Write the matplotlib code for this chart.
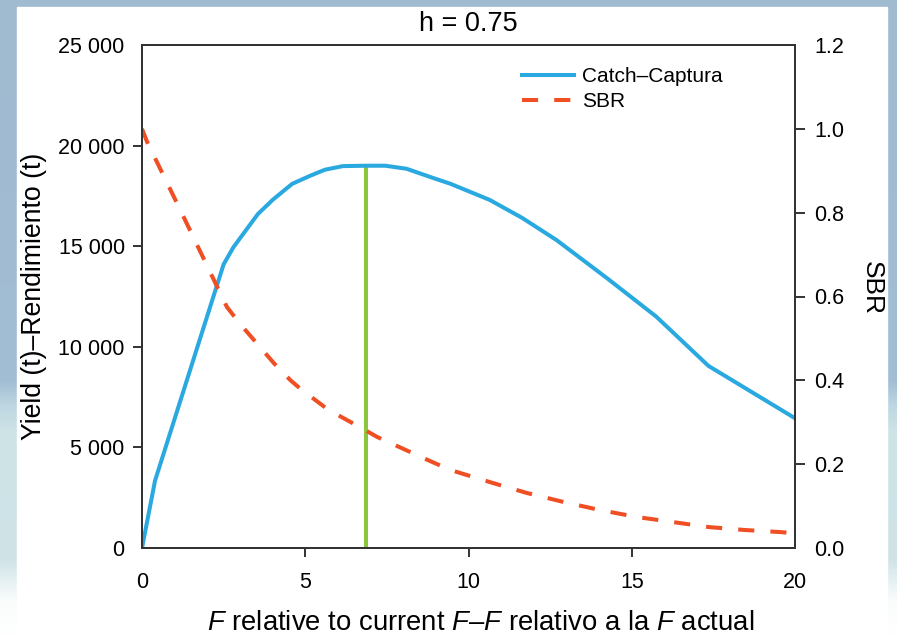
import numpy as np
import matplotlib
matplotlib.use('Agg')
import matplotlib.pyplot as plt
from matplotlib.patches import Rectangle

plt.rcParams['font.family'] = ['Liberation Sans', 'DejaVu Sans']
plt.rcParams['mathtext.fontset'] = 'custom'
plt.rcParams['mathtext.it'] = 'Liberation Sans:italic'
plt.rcParams['mathtext.rm'] = 'Liberation Sans'

# Catch (t) vs F multiplier
f_catch = [0, 0.4, 2.5, 2.8, 3.55, 4.0, 4.6, 5.15, 5.6, 6.15, 6.85, 7.45, 8.1, 8.9,
           9.45, 10.65, 11.65, 12.7, 14.25, 15.75, 17.35, 20]
catch = [0, 3350, 14100, 14950, 16600, 17300, 18100, 18500, 18800, 18980, 19000,
         19000, 18850, 18400, 18100, 17300, 16400, 15300, 13400, 11500, 9050, 6450]

# SBR vs F multiplier
f_sbr = [0, 0.15, 1.15, 2.6, 3.0, 4.05, 4.55, 4.85, 5.7, 6.75, 7.2, 8.75, 9.45,
         10.75, 11.8, 12.9, 14.0, 15.15, 16.25, 17.35, 18.45, 19.55, 20]
sbr = [1.0, 0.97, 0.81, 0.575, 0.535, 0.44, 0.4, 0.38, 0.33, 0.285, 0.265, 0.21,
       0.186, 0.155, 0.131, 0.11, 0.091, 0.074, 0.062, 0.05, 0.043, 0.038, 0.035]

f_msy = 6.85

x_ticks = [0, 5, 10, 15, 20]
y_ticks = [0, 5000, 10000, 15000, 20000, 25000]
y_ticklabels = ['0', '5 000', '10 000', '15 000', '20 000', '25 000']
y2_ticks = [0.0, 0.2, 0.4, 0.6, 0.8, 1.0, 1.2]

W, H = 897, 636
fig = plt.figure(figsize=(W / 100, H / 100), dpi=100)

# fondo: degradado azul -> blanco, panel blanco encima
bg = fig.add_axes([0, 0, 1, 1], zorder=-10)
rows = np.arange(H)
stops = [0, 380, 405, 430, 560, 600, H]
cols = np.array([[160, 186, 208], [162, 190, 212], [190, 214, 226],
                 [205, 227, 230], [208, 228, 232], [250, 252, 252], [255, 255, 255]]) / 255
grad = np.stack([np.interp(rows, stops, cols[:, k]) for k in range(3)], axis=1)
bg.imshow(np.repeat(grad[:, None, :], 4, axis=1), aspect='auto', extent=[0, W, H, 0])
bg.add_patch(Rectangle((17, 7), 870, H - 7, color='white'))
bg.set_xlim(0, W)
bg.set_ylim(H, 0)
bg.axis('off')

ax = fig.add_axes([142 / W, 1 - 548 / H, (795 - 142) / W, (548 - 45) / H])
ax.set_facecolor('none')
ax2 = ax.twinx()

blue = '#2aa9e0'
red = '#f04e23'
green = '#8cc63f'

l1, = ax.plot(f_catch, catch, color=blue, lw=2.9, solid_joinstyle='round', label='Catch–Captura')
ax.plot([f_msy, f_msy], [0, max(catch)], color=green, lw=2.9, zorder=1)
l2, = ax2.plot(f_sbr, sbr, color=red, lw=2.9, dashes=(4, 4), label='SBR')

ax.set_xlim(0, 20)
ax.set_ylim(0, 25000)
ax2.set_ylim(0, 1.2)
ax.set_xticks(x_ticks)
ax.set_yticks(y_ticks)
ax.set_yticklabels(y_ticklabels)
ax2.set_yticks(y2_ticks)
ax2.set_yticklabels([f'{v:.1f}' for v in y2_ticks])

spine_c = '#333333'
for a in (ax, ax2):
    for s in a.spines.values():
        s.set_color(spine_c)
        s.set_linewidth(1.4)
ax.tick_params(axis='x', length=6.5, width=1.4, color=spine_c, labelsize=15.5, pad=11)
ax.tick_params(axis='y', length=6.5, width=1.4, color=spine_c, labelsize=15.5, pad=6)
ax2.tick_params(axis='y', length=7.5, width=1.4, color=spine_c, labelsize=15.5, pad=6.5)

# sin marcas en los extremos
for t in (ax.xaxis.get_major_ticks()[0], ax.xaxis.get_major_ticks()[-1],
          ax.yaxis.get_major_ticks()[0], ax.yaxis.get_major_ticks()[-1]):
    t.tick1line.set_visible(False)
for t in (ax2.yaxis.get_major_ticks()[0], ax2.yaxis.get_major_ticks()[-1]):
    t.tick2line.set_visible(False)

fig.legend([l1, l2], ['Catch–Captura', 'SBR'], loc='upper left',
           bbox_to_anchor=(522 / W, 1 - 67 / H), frameon=False, fontsize=15,
           borderpad=0, borderaxespad=0, handlelength=2.5, handletextpad=0.4,
           labelspacing=0.3)

fig.text(468.5 / W, 1 - 31 / H, 'h = 0.75', fontsize=19.5, ha='center', va='baseline')
fig.text(34 / W, 1 - 296.5 / H, 'Yield (t)–Rendimiento (t)', fontsize=19.2, rotation=90,
         ha='center', va='center')
fig.text(872 / W, 1 - 288 / H, 'SBR', fontsize=19, rotation=-90, ha='center', va='center')
fig.text(481 / W, 1 - 630 / H, '$F$ relative to current $F$–$F$ relativo a la $F$ actual',
         fontsize=19.8, ha='center', va='baseline')

fig.savefig('out.png', dpi=100)
